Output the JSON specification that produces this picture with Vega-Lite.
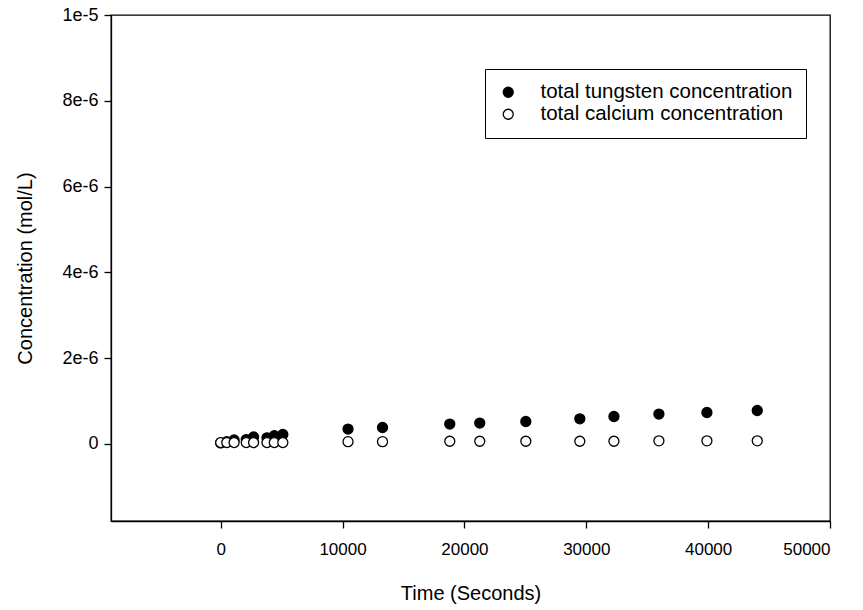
{
  "$schema": "https://vega.github.io/schema/vega-lite/v6.json",
  "autosize": {"type": "none"},
  "padding": {"left": 111, "top": 15, "right": 33, "bottom": 89},
  "width": 719,
  "height": 506,
  "background": "white",
  "config": {
    "font": "Liberation Sans",
    "view": {"stroke": "black", "strokeWidth": 1.3},
    "axis": {
      "domainColor": "black",
      "domainWidth": 1.3,
      "tickColor": "black",
      "tickSize": 7,
      "tickWidth": 1.3,
      "grid": false,
      "labelColor": "black",
      "titleColor": "black",
      "labelFont": "Liberation Sans",
      "titleFont": "Liberation Sans",
      "titleFontWeight": "normal"
    }
  },
  "data": {
    "values": [
      {"time": 0, "conc": 2e-8, "series": "total tungsten concentration"},
      {"time": 500, "conc": 5e-8, "series": "total tungsten concentration"},
      {"time": 1100, "conc": 9e-8, "series": "total tungsten concentration"},
      {"time": 2100, "conc": 1.0e-7, "series": "total tungsten concentration"},
      {"time": 2700, "conc": 1.6e-7, "series": "total tungsten concentration"},
      {"time": 3800, "conc": 1.4e-7, "series": "total tungsten concentration"},
      {"time": 4400, "conc": 1.9e-7, "series": "total tungsten concentration"},
      {"time": 5100, "conc": 2.2e-7, "series": "total tungsten concentration"},
      {"time": 10450, "conc": 3.43e-7, "series": "total tungsten concentration"},
      {"time": 13280, "conc": 3.8e-7, "series": "total tungsten concentration"},
      {"time": 18800, "conc": 4.6e-7, "series": "total tungsten concentration"},
      {"time": 21260, "conc": 4.83e-7, "series": "total tungsten concentration"},
      {"time": 25040, "conc": 5.2e-7, "series": "total tungsten concentration"},
      {"time": 29470, "conc": 5.83e-7, "series": "total tungsten concentration"},
      {"time": 32270, "conc": 6.37e-7, "series": "total tungsten concentration"},
      {"time": 35960, "conc": 6.93e-7, "series": "total tungsten concentration"},
      {"time": 39900, "conc": 7.3e-7, "series": "total tungsten concentration"},
      {"time": 44030, "conc": 7.77e-7, "series": "total tungsten concentration"},
      {"time": 0, "conc": 3e-8, "series": "total calcium concentration"},
      {"time": 500, "conc": 3e-8, "series": "total calcium concentration"},
      {"time": 1100, "conc": 3e-8, "series": "total calcium concentration"},
      {"time": 2100, "conc": 3e-8, "series": "total calcium concentration"},
      {"time": 2700, "conc": 3e-8, "series": "total calcium concentration"},
      {"time": 3800, "conc": 3e-8, "series": "total calcium concentration"},
      {"time": 4400, "conc": 3e-8, "series": "total calcium concentration"},
      {"time": 5100, "conc": 3e-8, "series": "total calcium concentration"},
      {"time": 10450, "conc": 5e-8, "series": "total calcium concentration"},
      {"time": 13280, "conc": 5e-8, "series": "total calcium concentration"},
      {"time": 18800, "conc": 6e-8, "series": "total calcium concentration"},
      {"time": 21260, "conc": 6e-8, "series": "total calcium concentration"},
      {"time": 25040, "conc": 6e-8, "series": "total calcium concentration"},
      {"time": 29470, "conc": 6e-8, "series": "total calcium concentration"},
      {"time": 32270, "conc": 6e-8, "series": "total calcium concentration"},
      {"time": 35960, "conc": 7e-8, "series": "total calcium concentration"},
      {"time": 39900, "conc": 7e-8, "series": "total calcium concentration"},
      {"time": 44030, "conc": 7e-8, "series": "total calcium concentration"}
    ]
  },
  "mark": {"type": "point", "shape": "circle", "filled": true, "size": 100, "stroke": "black", "strokeWidth": 1.3, "opacity": 1},
  "encoding": {
    "x": {
      "field": "time", "type": "quantitative",
      "scale": {"domain": [-9000, 50000], "nice": false, "zero": false},
      "axis": {"values": [0, 10000, 20000, 30000, 40000, 50000], "format": "d", "title": "Time (Seconds)", "labelFontSize": 17, "titleFontSize": 20, "labelPadding": 13, "titlePadding": 26}
    },
    "y": {
      "field": "conc", "type": "quantitative",
      "scale": {"domain": [-1.8e-6, 1e-5], "nice": false, "zero": false},
      "axis": {"values": [0, 2e-6, 4e-6, 6e-6, 8e-6, 1e-5], "labelExpr": "datum.value == 0 ? '0' : format(datum.value, '.0e')", "title": "Concentration (mol/L)", "labelFontSize": 18, "titleFontSize": 20, "labelPadding": 6, "titlePadding": 26}
    },
    "fill": {
      "field": "series", "type": "nominal",
      "scale": {"domain": ["total tungsten concentration", "total calcium concentration"], "range": ["black", "white"]},
      "legend": {
        "title": null, "orient": "none", "legendX": 374, "legendY": 54,
        "strokeColor": "black", "padding": 13,
        "symbolType": "circle", "symbolSize": 100, "symbolStrokeColor": "black", "symbolStrokeWidth": 1.3,
        "labelFontSize": 20.5, "labelColor": "black", "labelFont": "Liberation Sans", "labelOffset": 22, "labelLimit": 400, "rowPadding": 1
      }
    }
  }
}
